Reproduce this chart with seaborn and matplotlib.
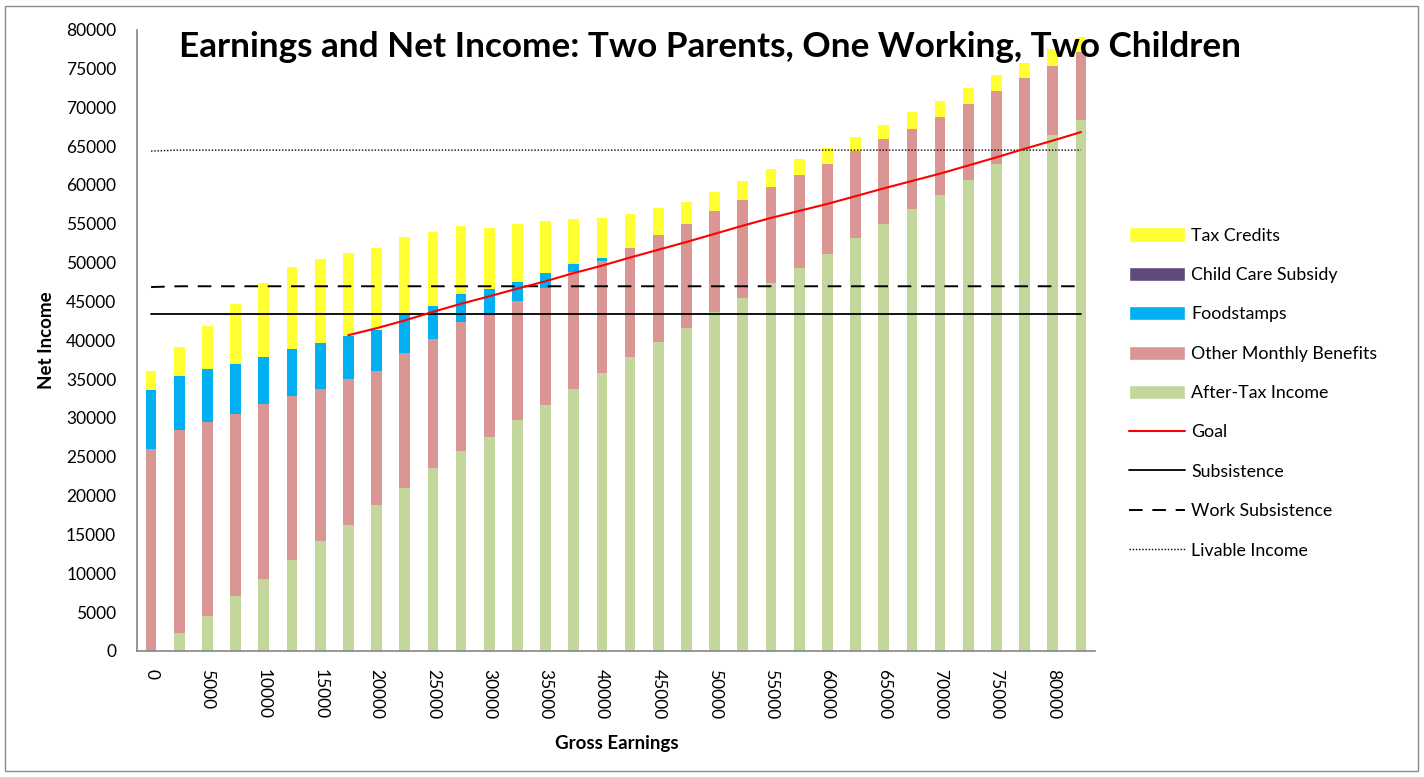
import numpy as np
import pandas as pd
import seaborn as sns
import matplotlib.pyplot as plt
from matplotlib.patches import Patch, Rectangle
from matplotlib.lines import Line2D

# Gross earnings categories (one bar each)
earnings = [0, 2500, 5000, 7500, 10000, 12500, 15000, 17500, 20000, 22500,
            25000, 27500, 30000, 32500, 35000, 37500, 40000, 42500, 45000, 47500,
            50000, 52500, 55000, 57500, 60000, 62500, 65000, 67500, 70000, 72500,
            75000, 77500, 80000, 82500]

# Stack pieces, bottom to top
after_tax = [0, 2300, 4500, 7050, 9300, 11700, 14100, 16250, 18750, 20950,
             23500, 25750, 27550, 29700, 31700, 33750, 35750, 37900, 39750, 41550,
             43650, 45500, 47400, 49250, 51100, 53200, 55000, 56850, 58750, 60650,
             62700, 64650, 66450, 68350]
other_benefits = [26000, 26150, 24950, 23450, 22450, 21100, 19650, 18750, 17250, 17350,
                  16650, 16650, 15950, 15400, 15050, 15000, 14450, 13950, 13750, 13450,
                  13000, 12600, 12350, 12050, 11650, 11200, 10850, 10400, 9950, 9700,
                  9350, 9050, 8900, 8700]
foodstamps = [7550, 6950, 6800, 6500, 6100, 6050, 5950, 5600, 5350, 5000,
              4300, 3500, 3050, 2450, 1850, 1100, 400, 0, 0, 0,
              0, 0, 0, 0, 0, 0, 0, 0, 0, 0,
              0, 0, 0, 0]
child_care = [0, 0, 0, 0, 0, 0, 0, 0, 0, 0,
              0, 0, 0, 0, 0, 0, 0, 0, 0, 0,
              0, 0, 0, 0, 0, 0, 0, 0, 0, 0,
              0, 0, 0, 0]
tax_credits = [2450, 3750, 5600, 7650, 9500, 10550, 10700, 10650, 10500, 10000,
               9500, 8850, 7950, 7400, 6800, 5700, 5200, 4400, 3500, 2850,
               2400, 2400, 2250, 2000, 2050, 1750, 1850, 2100, 2100, 2100,
               2100, 2050, 2100, 2050]

# Lines
goal = [np.nan, np.nan, np.nan, np.nan, np.nan, np.nan, np.nan, 40650, 41550, 42550,
        43650, 44700, 45650, 46650, 47600, 48650, 49600, 50650, 51650, 52650,
        53700, 54750, 55750, 56650, 57550, 58550, 59550, 60500, 61450, 62500,
        63550, 64650, 65700, 66800]
subsistence = [43350, 43350, 43350, 43350, 43350, 43350, 43350, 43350, 43350, 43350,
               43350, 43350, 43350, 43350, 43350, 43350, 43350, 43350, 43350, 43350,
               43350, 43350, 43350, 43350, 43350, 43350, 43350, 43350, 43350, 43350,
               43350, 43350, 43350, 43350]
work_subsistence = [46850, 46950, 46950, 46950, 46950, 46950, 46950, 46950, 46950, 46950,
                    46950, 46950, 46950, 46950, 46950, 46950, 46950, 46950, 46950, 46950,
                    46950, 46950, 46950, 46950, 46950, 46950, 46950, 46950, 46950, 46950,
                    46950, 46950, 46950, 46950]
livable = [64350, 64480, 64480, 64480, 64480, 64480, 64480, 64480, 64480, 64480,
           64480, 64480, 64480, 64480, 64480, 64480, 64480, 64480, 64480, 64480,
           64480, 64480, 64480, 64480, 64480, 64480, 64480, 64480, 64480, 64480,
           64480, 64480, 64480, 64480]

sns.set_style("white")
plt.rcParams['font.family'] = ['Lato', 'DejaVu Sans']
plt.rcParams['text.color'] = 'black'
plt.rcParams['xtick.labelcolor'] = 'black'
plt.rcParams['ytick.labelcolor'] = 'black'

c_tax = '#FFFF33'
c_child = '#604A7B'
c_food = '#00B0F0'
c_other = '#D99694'
c_after = '#C3D69B'

df = pd.DataFrame({'label': [str(e) for e in earnings]})
pieces = np.array([after_tax, other_benefits, foodstamps, child_care, tax_credits], dtype=float)
tops = np.cumsum(pieces, axis=0)
df['after'] = tops[0]
df['other'] = tops[1]
df['food'] = tops[2]
df['child'] = tops[3]
df['tax'] = tops[4]

fig = plt.figure(figsize=(14.24, 7.77), dpi=100)
ax = fig.add_axes([0.0962, 0.1622, 0.6728, 0.7998])

# draw tallest first so lower pieces sit on top
for col, color in [('tax', c_tax), ('child', c_child), ('food', c_food),
                   ('other', c_other), ('after', c_after)]:
    sns.barplot(data=df, x='label', y=col, color=color, saturation=1,
                width=0.38, errorbar=None, linewidth=0, ax=ax)

pos = np.arange(len(earnings))
ax.plot(pos, livable, color='black', lw=1.0, ls=(0, (1, 1.3)))
ax.plot(pos, work_subsistence, color='black', lw=1.4, ls=(0, (7, 5)))
ax.plot(pos, subsistence, color='black', lw=1.3)
ax.plot(pos, goal, color='red', lw=1.5)

ax.set_xlim(-0.5, len(earnings) - 0.5)
ax.set_ylim(0, 80000)
ax.set_yticks(range(0, 80001, 5000))
ax.set_yticklabels([str(v) for v in range(0, 80001, 5000)])
ax.set_xticks(pos[::2])
ax.set_xticklabels([str(e) for e in earnings[::2]], rotation=-90, va='top', ha='center')
ax.set_xticks(np.arange(-0.5, len(earnings), 1), minor=True)
ax.tick_params(axis='x', which='major', length=0, pad=13, labelsize=12.5)
ax.tick_params(axis='x', which='minor', length=7, color='#868686', width=1, direction='out')
ax.tick_params(axis='y', length=5, color='#868686', width=1, direction='out', pad=10, labelsize=12.5)
ax.set_xlabel('')
ax.set_ylabel('')
for s in ['top', 'right']:
    ax.spines[s].set_visible(False)
for s in ['left', 'bottom']:
    ax.spines[s].set_color('#868686')
    ax.spines[s].set_linewidth(1.2)

fig.text(710 / 1424, 1 - 47 / 777, 'Earnings and Net Income: Two Parents, One Working, Two Children',
         ha='center', va='center', fontsize=25.3, fontweight='bold')
fig.text(47 / 1424, 1 - 340 / 777, 'Net Income', rotation=90, ha='center', va='center',
         fontsize=13.5, fontweight='bold')
fig.text(617 / 1424, 1 - 743 / 777, 'Gross Earnings', ha='center', va='center',
         fontsize=13.5, fontweight='bold')

handles = [
    Patch(facecolor=c_tax, label='Tax Credits'),
    Patch(facecolor=c_child, label='Child Care Subsidy'),
    Patch(facecolor=c_food, label='Foodstamps'),
    Patch(facecolor=c_other, label='Other Monthly Benefits'),
    Patch(facecolor=c_after, label='After-Tax Income'),
    Line2D([], [], color='red', lw=1.5, label='Goal'),
    Line2D([], [], color='black', lw=1.3, label='Subsistence'),
    Line2D([], [], color='black', lw=1.4, ls=(0, (7, 5)), label='Work Subsistence'),
    Line2D([], [], color='black', lw=1.0, ls=(0, (1, 1.3)), label='Livable Income'),
]
fig.legend(handles=handles, loc='center left', bbox_to_anchor=(1129 / 1424, 1 - 393 / 777),
           frameon=False, fontsize=12.8, handlelength=3.15, handleheight=0.85,
           handletextpad=0.35, labelspacing=1.3, borderpad=0, borderaxespad=0)

fig.add_artist(Rectangle((5 / 1424, 6 / 777), 1413 / 1424, 765 / 777, transform=fig.transFigure,
                         fill=False, edgecolor='#8c8c8c', lw=1))

fig.savefig('out.png', dpi=100)
